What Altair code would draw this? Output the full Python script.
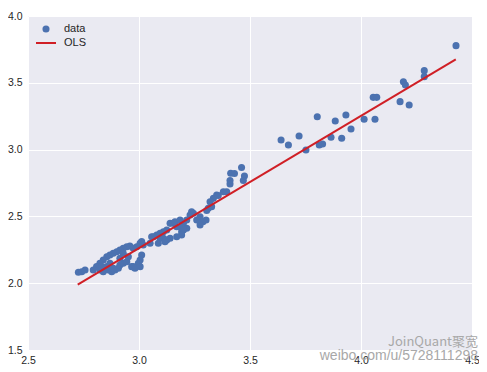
import altair as alt
import pandas as pd

# scatter data
x_vals = [3.640, 3.673, 3.721, 3.752, 3.803, 3.812, 3.827, 3.865, 3.884, 3.913,
          3.932, 3.955, 4.014, 4.055, 4.071, 4.063, 4.176, 4.191, 4.200, 4.217,
          4.285, 4.285, 4.428,
          3.462, 3.413, 3.430, 3.410, 3.475, 3.470, 3.410, 3.380, 3.350, 3.335,
          3.395, 3.357, 3.320, 3.312, 3.305, 3.327, 3.275, 3.260, 3.245, 3.230,
          3.237, 3.288, 3.275, 3.302, 3.215, 3.200, 3.185, 3.170, 3.155, 3.140,
          3.162, 3.185, 3.215, 3.192, 3.200, 3.192, 3.170, 3.140, 3.110, 3.125,
          3.110, 3.095, 3.080, 3.065, 3.095, 3.125, 3.050, 3.087, 3.117, 3.012,
          3.019, 3.057,
          3.012, 3.005, 2.997, 2.974, 3.005, 2.967, 2.982,
          3.005, 2.990, 2.974, 2.959, 2.945, 2.929, 2.914, 2.900, 2.884, 2.869,
          2.855, 2.839, 2.824, 2.809, 2.794, 2.727, 2.742, 2.757, 2.824, 2.839,
          2.862, 2.877, 2.892, 2.907, 2.914, 2.929, 2.945, 2.952, 2.914, 2.929,
          2.855, 2.869, 2.884, 2.832]
y_vals = [3.072, 3.034, 3.102, 2.997, 3.246, 3.034, 3.042, 3.092, 3.214, 3.085,
          3.259, 3.154, 3.227, 3.391, 3.391, 3.227, 3.359, 3.508, 3.484, 3.334,
          3.591, 3.546, 3.778,
          2.866, 2.823, 2.821, 2.769, 2.802, 2.769, 2.743, 2.685, 2.660, 2.635,
          2.685, 2.656, 2.610, 2.561, 2.544, 2.573, 2.498, 2.473, 2.523, 2.510,
          2.535, 2.460, 2.436, 2.473, 2.473, 2.448, 2.423, 2.423, 2.448, 2.448,
          2.460, 2.473, 2.411, 2.385, 2.398, 2.361, 2.348, 2.336, 2.336, 2.398,
          2.385, 2.373, 2.361, 2.348, 2.336, 2.323, 2.299, 2.299, 2.311, 2.311,
          2.286, 2.348,
          2.211, 2.174, 2.149, 2.124, 2.124, 2.124, 2.112,
          2.299, 2.273, 2.261, 2.278, 2.273, 2.261, 2.248, 2.236, 2.224, 2.211,
          2.198, 2.174, 2.149, 2.124, 2.099, 2.082, 2.086, 2.099, 2.099, 2.086,
          2.099, 2.086, 2.099, 2.112, 2.136, 2.149, 2.161, 2.198, 2.186, 2.224,
          2.124, 2.149, 2.112, 2.124]

# OLS fitted line end points
ols_x = [2.724, 4.427]
ols_y = [1.990, 3.676]

x_ticks = [2.5, 3.0, 3.5, 4.0, 4.5]
y_ticks = [1.5, 2.0, 2.5, 3.0, 3.5, 4.0]

legend_labels = ["data", "OLS"]
watermark = ["JoinQuant聚宽", "weibo.com/u/5728111298"]

BLUE = "#4c72b0"
RED = "#d01f26"
FONT = "Liberation Sans"
W, H = 444, 334

pts = pd.DataFrame({"x": x_vals, "y": y_vals})
line = pd.DataFrame({"x": ols_x, "y": ols_y})

xscale = alt.Scale(domain=[2.5, 4.5], nice=False, zero=False)
yscale = alt.Scale(domain=[1.5, 4.0], nice=False, zero=False)

xaxis = alt.Axis(values=x_ticks, format=".1f", title=None, domain=False, ticks=False,
                 tickSize=0, labelPadding=5, labelFlush=False, gridColor="white",
                 gridWidth=1, gridOpacity=1, labelFont=FONT, labelFontSize=10.5,
                 labelColor="#262626")
yaxis = alt.Axis(values=y_ticks, format=".1f", title=None, domain=False, ticks=False,
                 tickSize=0, labelPadding=6, gridColor="white", gridWidth=1,
                 gridOpacity=1, labelFont=FONT, labelFontSize=10.5, labelColor="#262626")

scatter = alt.Chart(pts).mark_circle(size=50, color=BLUE, opacity=1).encode(
    x=alt.X("x:Q", scale=xscale, axis=xaxis),
    y=alt.Y("y:Q", scale=yscale, axis=yaxis),
)

ols = alt.Chart(line).mark_line(color=RED, strokeWidth=2).encode(
    x=alt.X("x:Q", scale=xscale),
    y=alt.Y("y:Q", scale=yscale),
)

# legend (top-left, no frame)
leg_df = pd.DataFrame({"label": legend_labels})
leg_pt = alt.Chart(leg_df).transform_filter(alt.datum.label == "data").mark_circle(
    size=50, color=BLUE, opacity=1).encode(x=alt.value(18), y=alt.value(13))
leg_ln = alt.Chart(leg_df).transform_filter(alt.datum.label == "OLS").mark_rule(
    color=RED, strokeWidth=2).encode(x=alt.value(8), x2=alt.value(28), y=alt.value(27))
leg_t1 = alt.Chart(leg_df).transform_filter(alt.datum.label == "data").mark_text(
    align="left", baseline="middle", font=FONT, fontSize=11, color="#262626").encode(
    x=alt.value(36), y=alt.value(13), text="label:N")
leg_t2 = alt.Chart(leg_df).transform_filter(alt.datum.label == "OLS").mark_text(
    align="left", baseline="middle", font=FONT, fontSize=11, color="#262626").encode(
    x=alt.value(36), y=alt.value(27), text="label:N")

# watermark
wm_df = pd.DataFrame({"t": watermark})
wm1 = alt.Chart(wm_df).transform_filter(alt.datum.t == watermark[0]).mark_text(
    align="right", baseline="middle", font="Noto Sans CJK SC", fontSize=13,
    color="#a8a8a8").encode(x=alt.value(W + 6), y=alt.value(326), text="t:N")
wm2 = alt.Chart(wm_df).transform_filter(alt.datum.t == watermark[1]).mark_text(
    align="right", baseline="middle", font=FONT, fontSize=14,
    color="#a8a8a8").encode(x=alt.value(W + 6), y=alt.value(340), text="t:N")

chart = alt.layer(scatter, ols, leg_pt, leg_ln, leg_t1, leg_t2, wm1, wm2).properties(
    width=W, height=H,
    autosize=alt.AutoSizeParams(type="none"),
    padding={"left": 20, "top": 8, "right": 7, "bottom": 15},
    background="white",
).configure_view(fill="#eaeaf2", stroke=None)

chart.save("out.html", embed_options={"renderer": "svg", "actions": False})
